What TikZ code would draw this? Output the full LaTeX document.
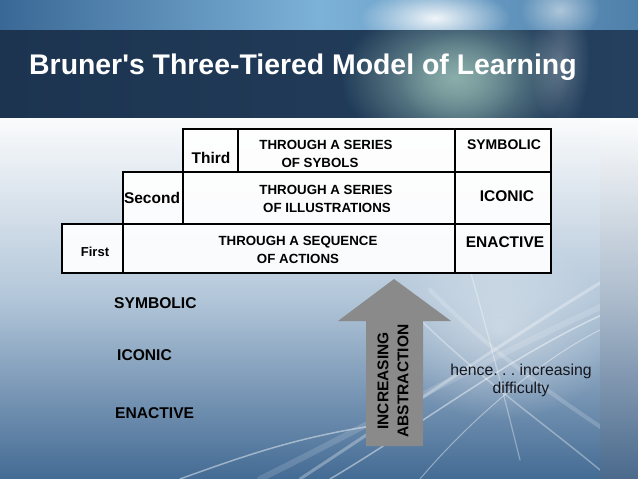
\documentclass[tikz,border=0pt]{standalone}
\usepackage{fontspec}
\setmainfont{Liberation Sans}[Ligatures=TeXOff]
\usetikzlibrary{shapes.geometric,fadings}
\frenchspacing
\definecolor{topL}{HTML}{3A6896}
\definecolor{topM}{HTML}{7DB2D8}
\definecolor{topR}{HTML}{4F80AA}
\definecolor{bandL}{HTML}{1C3450}
\definecolor{bandR}{HTML}{24405E}
\definecolor{mainTop}{HTML}{FAFBFC}
\definecolor{mainMid}{HTML}{B2C6D9}
\definecolor{mainBot}{HTML}{446B94}
\definecolor{arrowgray}{HTML}{8A8A8A}
\definecolor{txtdark}{HTML}{15171F}
\definecolor{tealglow}{HTML}{8AAEAA}
\tikzfading[name=glowfade, inner color=transparent!0, outer color=transparent!100]
\tikzset{
  cellline/.style={draw=black, line width=1.6pt, fill=white, fill opacity=0.92},
  rowlabel/.style={font=\fontsize{15.5}{18}\selectfont\bfseries, text=black, inner sep=0pt},
  smalllabel/.style={font=\fontsize{13}{16}\selectfont\bfseries, text=black, inner sep=0pt},
  celltext/.style={font=\fontsize{13.3}{16}\selectfont\bfseries, text=black, inner sep=0pt},
  modelabel/.style={font=\fontsize{15.6}{18}\selectfont\bfseries, text=black, inner sep=0pt, anchor=west},
  streak/.style={white, line cap=round},
}
\begin{document}
\begin{tikzpicture}[x=1pt,y=-1pt]
\useasboundingbox (0,0) rectangle (638,479);
% ---------- background ----------
\shade[left color=topL, right color=topR, middle color=topM] (0,0) rectangle (638,30);
\begin{scope}
\clip (0,0) rectangle (638,30);
\fill[white, opacity=0.9, path fading=glowfade] (435,18) ellipse (75 and 30);
\fill[white, opacity=0.5, path fading=glowfade] (560,10) ellipse (40 and 30);
\end{scope}
\shade[left color=bandL, right color=bandR] (0,30) rectangle (638,118);
\begin{scope}
\clip (0,30) rectangle (638,118);
\fill[tealglow, opacity=1, path fading=glowfade] (455,78) ellipse (115 and 75);
\fill[tealglow, opacity=0.5, path fading=glowfade] (460,80) ellipse (60 and 50);
\fill[white, opacity=0.25, path fading=glowfade] (560,60) ellipse (30 and 70);
\end{scope}
\shade[top color=mainTop, bottom color=mainBot, middle color=mainMid] (0,118) rectangle (638,479);
% streaks
\begin{scope}
\clip (0,118) rectangle (600,479);
\fill[white, opacity=0.45, path fading=glowfade] (500,330) ellipse (120 and 90);
\draw[streak, line width=3pt, opacity=0.3] (300,479) .. controls (420,400) and (520,330) .. (638,260);
\draw[streak, line width=1.5pt, opacity=0.45] (330,479) .. controls (430,420) and (530,340) .. (638,300);
\draw[streak, line width=6pt, opacity=0.15] (260,479) .. controls (380,420) and (480,360) .. (638,290);
\draw[streak, line width=1.5pt, opacity=0.35] (400,300) .. controls (480,380) and (540,420) .. (600,470);
\draw[streak, line width=4pt, opacity=0.18] (430,290) .. controls (500,360) and (560,400) .. (620,440);
\draw[streak, line width=1.2pt, opacity=0.35] (470,270) .. controls (490,340) and (505,400) .. (520,460);
\draw[streak, line width=1.5pt, opacity=0.45] (180,479) .. controls (260,450) and (320,430) .. (420,420);
\draw[streak, line width=1pt, opacity=0.4] (420,479) .. controls (470,420) and (540,360) .. (600,330);
\end{scope}
% right strip
\shade[top color=white, bottom color={rgb,255:red,80;green,105;blue,135}, opacity=0.55] (600,118) rectangle (638,479);
% ---------- title ----------
\node[text=white, font=\fontsize{28.4}{32}\selectfont\bfseries, anchor=west, inner sep=0pt] (title) at (29,67) {Bruner's Three-Tiered Model of Learning};
% ---------- table ----------
\draw[cellline] (62,224) rectangle (551,273);
\draw[cellline] (123,172) rectangle (551,224);
\draw[cellline] (183,129) rectangle (551,172);
\draw[line width=1.6pt] (123,224) -- (123,273);
\draw[line width=1.6pt] (183,172) -- (183,224);
\draw[line width=1.6pt] (238,129) -- (238,172);
\draw[line width=1.6pt] (455,129) -- (455,273);
% row texts
\node[rowlabel] (third) at (211,158) {Third};
\node[celltext] (t3a) at (326,145) {THROUGH A SERIES};
\node[celltext] (t3b) at (320,163) {OF SYBOLS};
\node[smalllabel, font=\fontsize{14}{16}\selectfont\bfseries] (sym3) at (504,145) {SYMBOLIC};
\node[rowlabel] (second) at (152,198) {Second};
\node[celltext] (t2a) at (326,190) {THROUGH A SERIES};
\node[celltext] (t2b) at (327,208) {OF ILLUSTRATIONS};
\node[rowlabel] (ico2) at (507,196) {ICONIC};
\node[smalllabel] (first) at (95,252) {First};
\node[celltext] (t1a) at (298,242) {THROUGH A SEQUENCE};
\node[celltext] (t1b) at (298,259) {OF ACTIONS};
\node[rowlabel] (ena1) at (505,242) {ENACTIVE};
% ---------- left labels ----------
\node[modelabel] (lsym) at (114,303) {SYMBOLIC};
\node[modelabel] (lico) at (117,355) {ICONIC};
\node[modelabel] (lena) at (115,413) {ENACTIVE};
% ---------- arrow ----------
\fill[arrowgray] (366,446) -- (366,321) -- (338,321) -- (394,279) -- (451,321) -- (423,321) -- (423,446) -- cycle;
\node[rotate=90, font=\fontsize{15.5}{20}\selectfont\bfseries, align=center, text=black, inner sep=0pt] (abstr) at (393,381) {INCREASING\\ABSTRACTION};
% ---------- hence ----------
\node[font=\fontsize{15.8}{18}\selectfont, text=txtdark, align=center, inner sep=0pt] (hence) at (521,380) {hence. . . increasing\\difficulty};
\end{tikzpicture}
\end{document}
